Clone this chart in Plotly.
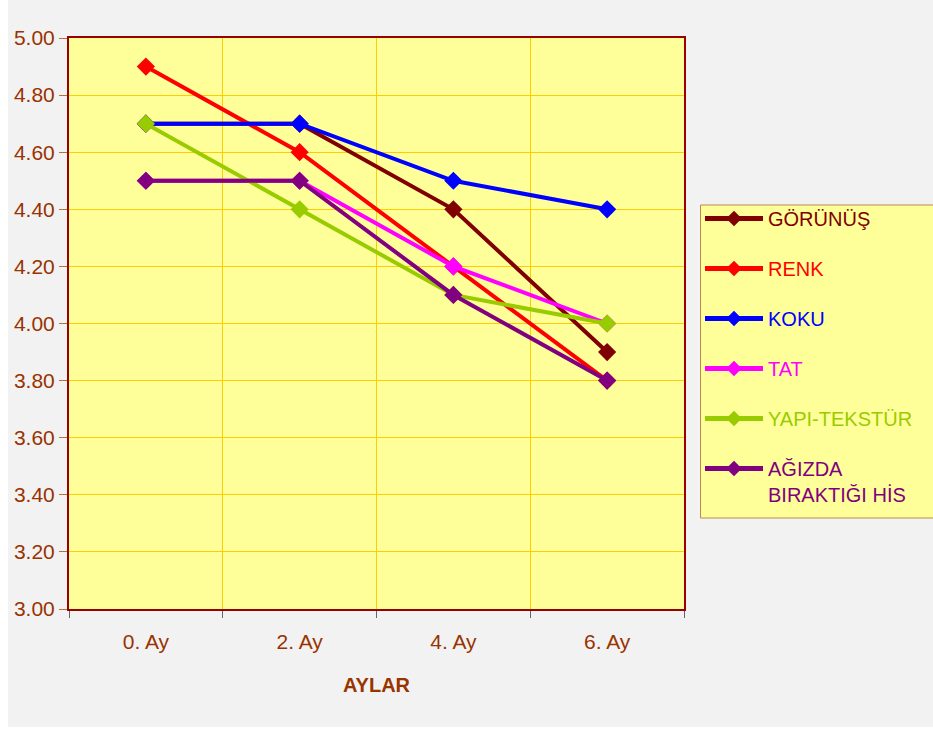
import plotly.graph_objects as go

categories = ["0. Ay", "2. Ay", "4. Ay", "6. Ay"]
series_names = ["GÖRÜNÜŞ", "RENK", "KOKU", "TAT", "YAPI-TEKSTÜR", "AĞIZDA<br>BIRAKTIĞI HİS"]
gorunus = [4.70, 4.70, 4.40, 3.90]
renk = [4.90, 4.60, 4.20, 3.80]
koku = [4.70, 4.70, 4.50, 4.40]
tat = [4.50, 4.50, 4.20, 4.00]
yapi = [4.70, 4.40, 4.10, 4.00]
agizda = [4.50, 4.50, 4.10, 3.80]
colors = ["#800000", "#ff0000", "#0000ff", "#ff00ff", "#99cc00", "#800080"]
y_ticks = [3.0, 3.2, 3.4, 3.6, 3.8, 4.0, 4.2, 4.4, 4.6, 4.8, 5.0]

W, H = 933, 730
L, R, T, B = 69, W - 684, 38, H - 609
pw, ph = W - L - R, H - T - B

def px_x(v):
    return (v - L) / pw

def px_y(v):
    return (609 - v) / ph

fig = go.Figure()
for i, (name, vals) in enumerate(zip(series_names, [gorunus, renk, koku, tat, yapi, agizda])):
    c = colors[i]
    fig.add_trace(go.Scatter(
        x=categories, y=vals, mode="lines+markers",
        name=f'<span style="color:{c}">{name}</span>',
        legendgroup=f"g{i}",
        line=dict(color=c, width=4),
        marker=dict(symbol="diamond", size=14, color=c),
    ))

font_fam = "Liberation Sans, Arial, sans-serif"
axis_col = "#993300"

fig.update_layout(
    width=W, height=H,
    margin=dict(l=L, r=R, t=T, b=B),
    paper_bgcolor="white",
    plot_bgcolor="#ffff99",
    font=dict(family=font_fam, color=axis_col, size=20),
    showlegend=True,
    legend=dict(
        x=px_x(700), y=px_y(199), xanchor="left", yanchor="top",
        bgcolor="rgba(0,0,0,0)", borderwidth=0,
        font=dict(family=font_fam, size=20),
        tracegroupgap=21, itemwidth=58,
        valign="top", itemsizing="constant",
    ),
    xaxis=dict(
        type="category", range=[-0.5, 3.5], tickson="boundaries",
        showgrid=True, gridcolor="#ffcc00", gridwidth=1,
        showline=True, linecolor="#990000", linewidth=2, mirror=True,
        ticks="outside", ticklen=7, tickcolor="#666666",
        tickfont=dict(size=21, color=axis_col),
        ticklabelstandoff=13,
        title=dict(text="<b>AYLAR</b>", font=dict(family=font_fam, size=20, color=axis_col), standoff=26),
        zeroline=False,
    ),
    yaxis=dict(
        range=[3.0, 5.0], tickvals=y_ticks, tickformat=".2f",
        showgrid=True, gridcolor="#ffcc00", gridwidth=1,
        showline=True, linecolor="#990000", linewidth=2, mirror=True,
        ticks="outside", ticklen=8, tickcolor="#b07040",
        tickfont=dict(size=21, color=axis_col),
        zeroline=False,
    ),
    shapes=[
        dict(type="rect", xref="paper", yref="paper",
             x0=px_x(8), x1=px_x(W + 5),
             y0=px_y(727), y1=px_y(-5),
             fillcolor="#f2f2f2", line=dict(width=0), layer="below"),
        dict(type="rect", xref="paper", yref="paper",
             x0=px_x(700.5), x1=px_x(W + 10),
             y0=px_y(518), y1=px_y(205),
             fillcolor="#ffff99", line=dict(width=1, color="#c08850"), layer="below"),
        dict(type="rect", xref="x domain", yref="y domain",
             x0=0, x1=1, y0=0, y1=1,
             fillcolor="#ffff99", line=dict(width=0), layer="below"),
    ],
)

fig.write_html("out.html")
